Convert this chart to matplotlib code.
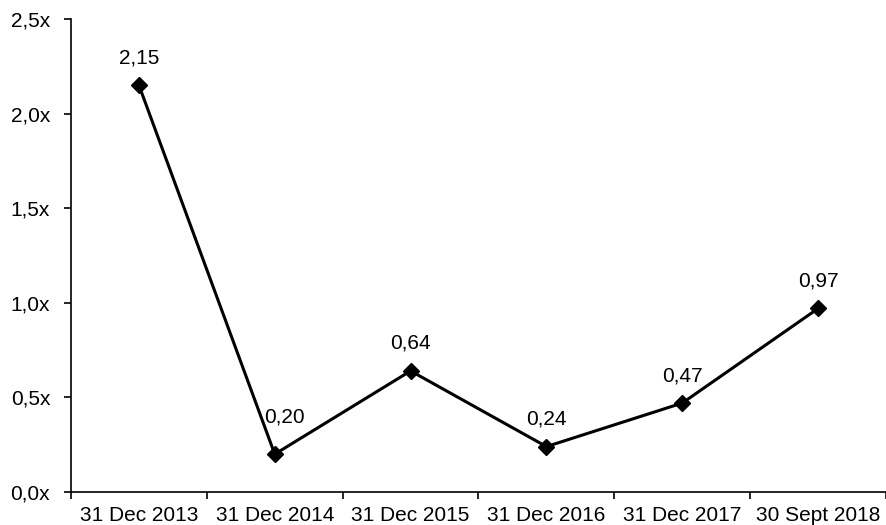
import matplotlib
matplotlib.use("Agg")
import matplotlib.pyplot as plt
import numpy as np

plt.rcParams['font.family'] = ['Liberation Sans', 'DejaVu Sans']

categories = ["31 Dec 2013", "31 Dec 2014", "31 Dec 2015", "31 Dec 2016", "31 Dec 2017", "30 Sept 2018"]
values = [2.15, 0.20, 0.64, 0.24, 0.47, 0.97]
y_ticks = [0.0, 0.5, 1.0, 1.5, 2.0, 2.5]

fig = plt.figure(figsize=(8.87, 5.25), dpi=100)
ax = fig.add_axes([71/887, 33/525, 815/887, 473/525])

x = np.arange(len(categories))
ax.plot(x, values, color='black', lw=2.2, marker='D', markersize=8, zorder=3)

for i, (xi, v) in enumerate(zip(x, values)):
    # the second label is nudged so it clears the steep falling segment
    dx, dy = (7, 20) if i == 1 else (0, 13)
    ax.annotate(f"{v:.2f}".replace('.', ','), (xi, v), xytext=(dx, dy),
                textcoords='offset points', ha='center', va='bottom', fontsize=15)

ax.set_xlim(-0.5, len(categories) - 0.5)
ax.set_ylim(0, 2.5)
ax.set_yticks(y_ticks)
ax.set_yticklabels([f"{t:.1f}".replace('.', ',') + "x" for t in y_ticks], fontsize=15)

ax.set_xticks(np.arange(len(categories) + 1) - 0.5)
ax.set_xticklabels([])
ax.set_xticks(x, minor=True)
ax.set_xticklabels(categories, minor=True, fontsize=15)
ax.tick_params(axis='x', which='minor', length=0, pad=10)
ax.tick_params(axis='both', which='major', length=5, width=1.2, direction='out')
ax.tick_params(axis='y', which='major', pad=10)

for s in ['top', 'right']:
    ax.spines[s].set_visible(False)
for s in ['left', 'bottom']:
    ax.spines[s].set_linewidth(1.2)

fig.savefig("out.png", dpi=100)
